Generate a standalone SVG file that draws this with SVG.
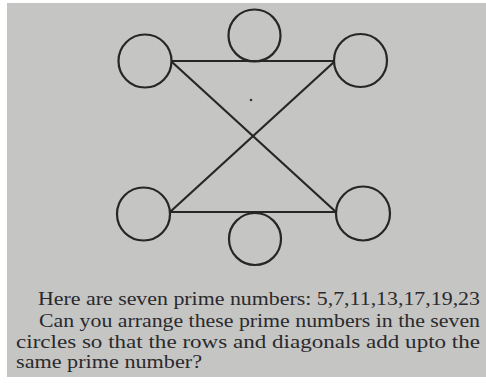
<svg xmlns="http://www.w3.org/2000/svg" width="486" height="383" viewBox="0 0 486 383">
<style>
.node circle{fill:none;stroke:#262626;stroke-width:2.2}
.edge{stroke:#262626;stroke-width:2.2;fill:none}
text{font-family:"Liberation Serif","DejaVu Serif",serif;font-size:19px;fill:#2a2a2e}
</style>
<rect x="0" y="0" width="486" height="383" fill="#ffffff"/>
<rect x="7" y="3" width="479" height="374" fill="#c5c5c3"/>
<g id="connectors">
<line class="edge" x1="172" y1="61" x2="334" y2="61"/>
<line class="edge" x1="170" y1="212" x2="336" y2="212"/>
<line class="edge" x1="172" y1="62" x2="336" y2="212"/>
<line class="edge" x1="334" y1="62" x2="170" y2="212"/>
</g>
<g id="n-top-left" class="node"><circle cx="145" cy="61" r="26.5"/></g>
<g id="n-top-mid" class="node"><circle cx="254.5" cy="35.5" r="26"/></g>
<g id="n-top-right" class="node"><circle cx="360.5" cy="60.5" r="26.5"/></g>
<g id="n-bot-left" class="node"><circle cx="143.5" cy="214" r="26.5"/></g>
<g id="n-bot-mid" class="node"><circle cx="255" cy="239" r="26"/></g>
<g id="n-bot-right" class="node"><circle cx="363" cy="213.5" r="27"/></g>
<circle cx="251" cy="100" r="1.3" fill="#333"/>
<g id="caption">
<text x="38" y="305" textLength="442" lengthAdjust="spacingAndGlyphs">Here are seven prime numbers: 5,7,11,13,17,19,23</text>
<text x="39" y="327" textLength="441" lengthAdjust="spacingAndGlyphs">Can you arrange these prime numbers in the seven</text>
<text x="16" y="348" textLength="464" lengthAdjust="spacingAndGlyphs">circles so that the rows and diagonals add upto the</text>
<text x="16" y="368" textLength="186" lengthAdjust="spacingAndGlyphs">same prime number?</text>
</g>
</svg>
